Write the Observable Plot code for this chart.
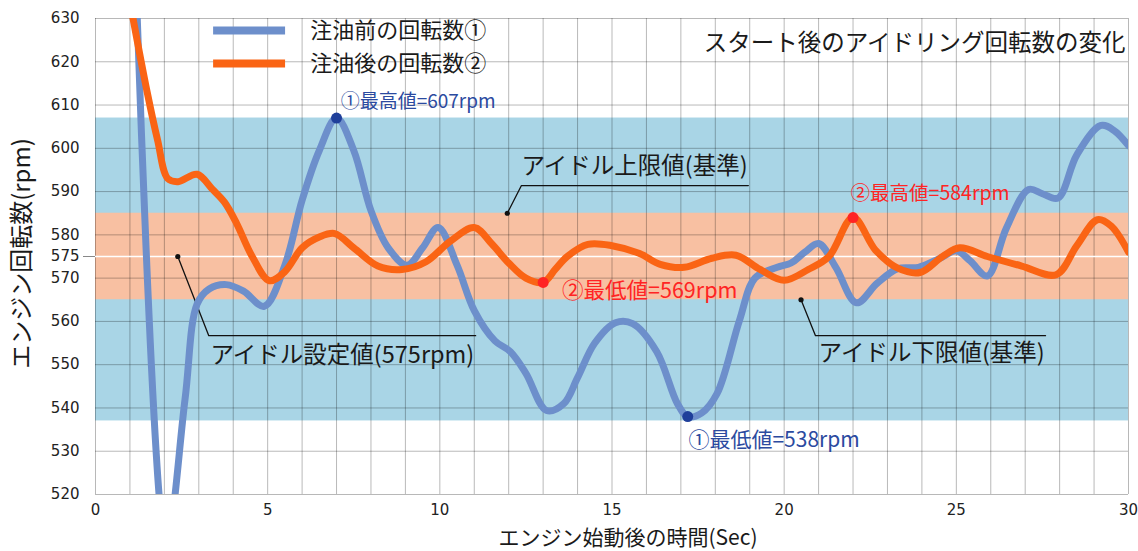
<!DOCTYPE html>
<html>
<head>
<meta charset="utf-8">
<script src="https://cdn.jsdelivr.net/npm/d3@7"></script>
<script src="https://cdn.jsdelivr.net/npm/@observablehq/plot@0.6"></script>
<style>
  html, body { margin: 0; padding: 0; background: #fff; }
  #chart svg { display: block; }
</style>
</head>
<body>
<div id="chart"></div>
<script>
// ---------- data ----------
const seriesNames = ["注油前の回転数①", "注油後の回転数②"];

// before refuel (series ①)
const timeBefore = [1.15, 2.05, 2.6, 2.95, 3.3, 3.8, 4.3, 4.9, 5.5, 6.0, 6.5, 7.0, 7.5, 8.0, 8.5, 9.05, 9.5, 9.95, 10.5, 11.0, 11.6, 12.05, 12.5, 13.1, 13.6, 14.0, 14.5, 15.1, 15.6, 16.3, 16.9, 17.2, 17.6, 18.05, 18.7, 19.15, 19.8, 20.2, 20.6, 21.0, 21.5, 22.1, 22.7, 23.3, 23.9, 24.5, 25.0, 25.4, 25.9, 26.45, 27.1, 27.5, 27.95, 28.5, 29.2, 29.6, 30.0];
const rpmBefore  = [645, 508, 542, 564, 567.5, 568.5, 567, 563.5, 573, 588, 599.5, 607, 599.5, 585.6, 577, 573, 577, 581.7, 573, 562.5, 555.5, 553, 548, 539.4, 541, 547, 555, 559.7, 559.5, 553, 541, 538, 538.8, 543.3, 560.2, 570, 572.5, 573.5, 576, 578, 572.5, 564.3, 568.8, 572.2, 572.5, 574.5, 576.3, 574, 570.5, 581.5, 590.5, 589.5, 588.5, 598.5, 605.3, 604, 600.6];

// after refuel (series ②)
const timeAfter = [0.95, 1.5, 1.8, 2.1, 2.4, 2.95, 3.4, 3.75, 4.1, 4.55, 5.05, 5.5, 6.0, 6.5, 6.95, 7.5, 8.2, 8.9, 9.6, 10.3, 11.0, 11.5, 12.0, 12.5, 13.0, 13.35, 13.7, 14.3, 15.0, 15.8, 16.4, 17.1, 17.9, 18.6, 19.3, 20.0, 20.7, 21.3, 22.0, 22.65, 23.3, 23.95, 24.6, 25.1, 25.9, 26.9, 27.9, 28.5, 29.1, 29.5, 30.0];
const rpmAfter  = [636, 613, 602, 593, 592.3, 594, 590.5, 587.5, 582.6, 575, 569.4, 571.5, 577, 579.5, 580.3, 577, 572.8, 572, 573.8, 578.5, 581.7, 578, 573.5, 570, 569, 572, 575, 577.8, 577.5, 575.7, 573.2, 572.5, 574.6, 575.3, 572, 569.5, 572, 575, 584, 576.5, 572.3, 571.3, 575, 577, 575, 572.8, 570.8, 577.5, 583.5, 582, 576];

// extremes
const extremeLabels = ["①最高値=607rpm", "①最低値=538rpm", "②最高値=584rpm", "②最低値=569rpm"];
const extremeSeries = [0, 0, 1, 1];
const extremeTime   = [7.0, 17.2, 22.0, 13.0];
const extremeRpm    = [607, 538, 584, 569];

// reference values
const idleSet = 575, idleUpper = 585, idleLower = 565;
const rangeBefore = [537, 607];
const refLabels = ["アイドル上限値(基準)", "アイドル設定値(575rpm)", "アイドル下限値(基準)"];

// ticks
const xTicks = [0, 5, 10, 15, 20, 25, 30];
const yTicks = [520, 530, 540, 550, 560, 570, 575, 580, 590, 600, 610, 620, 630];
const xGrid = d3.range(0, 31, 1);
const yGrid = d3.range(520, 631, 10);

const title = "スタート後のアイドリング回転数の変化";
const xTitle = "エンジン始動後の時間(Sec)";
const yTitle = "エンジン回転数(rpm)";

// ---------- build tables ----------
const before = timeBefore.map((t, i) => ({t, v: rpmBefore[i]}));
const after = timeAfter.map((t, i) => ({t, v: rpmAfter[i]}));
const extremes = extremeLabels.map((label, i) => ({label, s: extremeSeries[i], t: extremeTime[i], v: extremeRpm[i]}));
const bands = [
  {lo: rangeBefore[0], hi: rangeBefore[1], fill: "#a9d5e6"},
  {lo: idleLower, hi: idleUpper, fill: "#f8c0a2"}
];

// ---------- layout (annotation placement, in data units) ----------
const COLORS = ["#6d8fcb", "#fa6414"];
const TEXTC = ["#2b4aa0", "#ff2424"];
const DOTC = ["#1f3f9a", "#ff2424"];
const labelPos = [
  {t: 7.12, v: 610.8, size: 19},   // ① max
  {t: 17.22, v: 532.5, size: 21},  // ① min
  {t: 21.93, v: 589.6, size: 19.5},  // ② max
  {t: 13.55, v: 567.1, size: 21.5}    // ② min
];
const refAnn = [
  {label: refLabels[0], dot: {t: 11.96, v: idleUpper}, path: [[11.96, idleUpper], [12.37, 591.4], [18.96, 591.4]], text: {t: 12.37, v: 595.8}},
  {label: refLabels[1], dot: {t: 2.39, v: idleSet}, path: [[2.39, idleSet], [3.29, 556.7], [11.04, 556.7]], text: {t: 3.34, v: 552.1}},
  {label: refLabels[2], dot: {t: 20.49, v: idleLower}, path: [[20.49, idleLower], [20.91, 556.7], [27.59, 556.7]], text: {t: 21.0, v: 552.6}}
];
const leaderPts = refAnn.flatMap((a, k) => a.path.map(([t, v]) => ({k, t, v})));
const legendRows = seriesNames.map((name, i) => ({name, i, v: [627.2, 619.6][i]}));

const CJK = "'Noto Sans CJK JP', 'Noto Sans', sans-serif";
const NUM = "'DejaVu Sans', sans-serif";

const chart = Plot.plot({
  width: 1138,
  height: 551,
  marginLeft: 95,
  marginRight: 10,
  marginTop: 18,
  marginBottom: 57,
  x: {domain: [0, 30]},
  y: {domain: [520, 630]},
  style: {fontFamily: NUM, fontSize: "15px", background: "#fff", color: "#222"},
  marks: [
    Plot.rect(bands, {y1: "lo", y2: "hi", fill: d => d.fill}),
    Plot.gridX(xGrid, {stroke: "#000", strokeOpacity: 0.28, strokeWidth: 1}),
    Plot.gridY(yGrid, {stroke: "#000", strokeOpacity: 0.28, strokeWidth: 1}),
    Plot.ruleY([idleSet], {stroke: "#fff", strokeWidth: 1.6}),
    Plot.axisX(xTicks, {tickSize: 0, tickPadding: 10, label: null, fontSize: 15, fontFamily: NUM, fill: "#222"}),
    Plot.axisY(yTicks, {tickSize: 0, tickPadding: 16, label: null, fontSize: 15, fontFamily: NUM, fill: "#222"}),
    Plot.axisY([idleSet], {tickSize: 12, tickFormat: () => "", label: null, stroke: "#888"}),
    // leader lines
    Plot.line(leaderPts, {x: "t", y: "v", z: "k", stroke: "#111", strokeWidth: 1.3}),
    Plot.dot(refAnn, {x: d => d.dot.t, y: d => d.dot.v, r: 2.6, fill: "#111"}),
    Plot.text(refAnn, {x: d => d.text.t, y: d => d.text.v, text: "label", textAnchor: "start", fontSize: 23.5, fontFamily: CJK, fill: "#1a1a1a"}),
    // series
    Plot.line(before, {x: "t", y: "v", stroke: COLORS[0], strokeWidth: 7, curve: "catmull-rom", clip: true, strokeLinejoin: "round"}),
    Plot.line(after, {x: "t", y: "v", stroke: COLORS[1], strokeWidth: 7, curve: "catmull-rom", clip: true, strokeLinejoin: "round"}),
    // extremes
    Plot.dot(extremes, {x: "t", y: "v", r: 5.5, fill: d => DOTC[d.s]}),
    ...extremes.map((d, i) => Plot.text([d], {x: () => labelPos[i].t, y: () => labelPos[i].v, text: "label", textAnchor: "start", fontSize: labelPos[i].size, fontFamily: CJK, fill: TEXTC[d.s]})),
    // legend
    Plot.ruleY(legendRows, {y: "v", x1: () => 3.43, x2: () => 5.52, stroke: d => COLORS[d.i], strokeWidth: 8}),
    Plot.text(legendRows, {x: () => 6.24, y: "v", text: "name", textAnchor: "start", fontSize: 22, fontFamily: CJK, fill: "#1a1a1a"}),
    // title
    Plot.text([title], {frameAnchor: "top-right", textAnchor: "end", lineAnchor: "middle", dx: -3, dy: 25, fontSize: 23.5, fontFamily: CJK, fill: "#1a1a1a"}),
    // axis titles
    Plot.text([xTitle], {frameAnchor: "bottom", textAnchor: "middle", lineAnchor: "middle", dx: 16, dy: 44, fontSize: 21, fontFamily: CJK, fill: "#1a1a1a"}),
    Plot.text([yTitle], {frameAnchor: "left", textAnchor: "middle", lineAnchor: "middle", rotate: -90, dx: -73, dy: -3, fontSize: 24, fontFamily: CJK, fill: "#1a1a1a"})
  ]
});
document.getElementById("chart").appendChild(chart);
</script>
</body>
</html>
